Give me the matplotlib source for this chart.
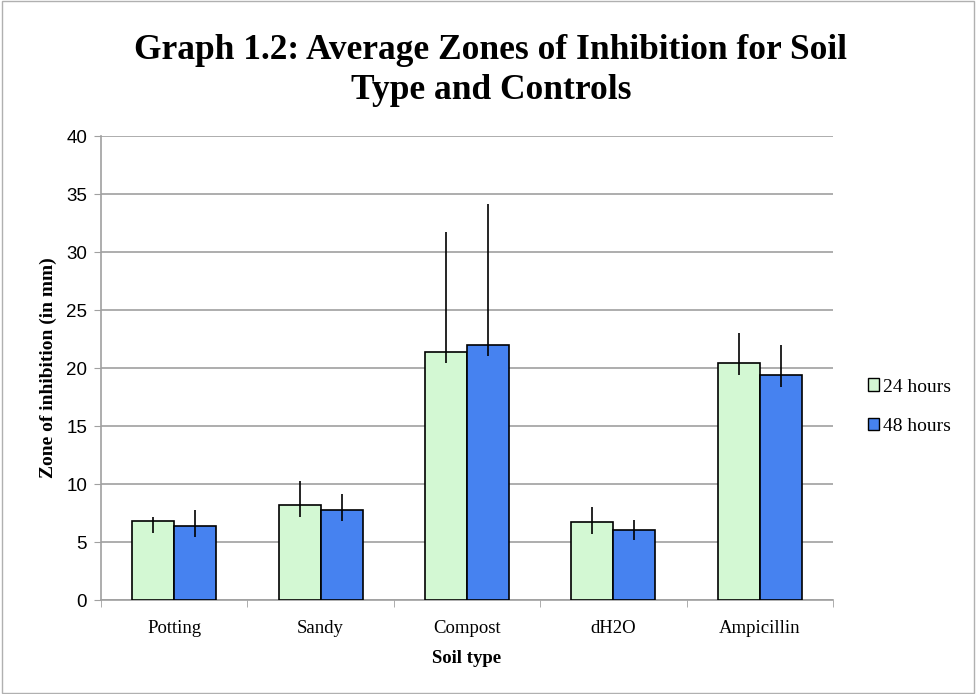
import matplotlib.pyplot as plt
import numpy as np
from matplotlib.patches import Patch, Rectangle

soils = ['Potting', 'Sandy', 'Compost', 'dH2O', 'Ampicillin']
h24 = [6.8, 8.2, 21.4, 6.7, 20.4]
h48 = [6.4, 7.75, 22.0, 6.0, 19.4]
# error bars (upper, lower)
h24_up = [0.4, 2.1, 10.3, 1.35, 2.6]
h24_lo = [1.0, 1.0, 1.0, 1.0, 1.0]
h48_up = [1.4, 1.35, 12.1, 0.9, 2.6]
h48_lo = [1.0, 0.9, 1.0, 0.85, 1.0]

green = '#d3f8d3'
blue = '#4682f0'
serif = 'Liberation Serif'

fig = plt.figure(figsize=(9.76, 6.94), dpi=100)
ax = fig.add_axes([0.1035, 0.1354, 0.75, 0.6686])

x = np.arange(len(soils))
w = 0.287
ax.bar(x - w/2, h24, w, color=green, edgecolor='black', linewidth=1.2, zorder=3)
ax.bar(x + w/2, h48, w, color=blue, edgecolor='black', linewidth=1.2, zorder=3)
ax.errorbar(x - w/2, h24, yerr=[h24_lo, h24_up], fmt='none', ecolor='black',
            elinewidth=1.2, capsize=0, zorder=4)
ax.errorbar(x + w/2, h48, yerr=[h48_lo, h48_up], fmt='none', ecolor='black',
            elinewidth=1.2, capsize=0, zorder=4)

ax.set_xlim(-0.5, 4.5)
ax.set_ylim(0, 40)
ax.set_yticks(range(0, 41, 5))
ax.yaxis.grid(True, color='#a0a0a0', linewidth=1.2, zorder=0)
ax.set_xticks(x)
ax.set_xticklabels(soils, family=serif, fontsize=13.5)
ax.set_xticks(np.arange(-0.5, 5, 1), minor=True)
ax.tick_params(axis='x', which='major', length=0, pad=14.5)
ax.tick_params(axis='x', which='minor', length=5, color='#a0a0a0', direction='out')
ax.tick_params(axis='y', length=5, color='#a0a0a0', labelsize=13.5, pad=5)
for lab in ax.get_yticklabels():
    lab.set_family('Liberation Sans')

for s in ['top', 'right']:
    ax.spines[s].set_visible(False)
for s in ['left', 'bottom']:
    ax.spines[s].set_color('#a0a0a0')
    ax.spines[s].set_linewidth(1.2)

ax.set_xlabel('Soil type', family=serif, fontweight='bold', fontsize=13.5, labelpad=9)
ax.set_ylabel('Zone of inhibition (in mm)', family=serif, fontweight='bold',
              fontsize=14, labelpad=6.5)

fig.text(0.503, 0.898, 'Graph 1.2: Average Zones of Inhibition for Soil\nType and Controls',
         ha='center', va='center', family=serif, fontweight='bold', fontsize=25.5,
         linespacing=1.29)

handles = [Patch(facecolor=green, edgecolor='black'),
           Patch(facecolor=blue, edgecolor='black')]
fig.legend(handles, ['24 hours', '48 hours'], loc='center left',
           bbox_to_anchor=(0.879, 0.414), frameon=False,
           prop={'family': serif, 'size': 14}, handlelength=0.6, handleheight=0.6,
           handletextpad=0.2, labelspacing=1.15, borderpad=0)

fig.patches.append(Rectangle((0.002, 0.002), 0.996, 0.996, transform=fig.transFigure,
                             fill=False, edgecolor='#b0b0b0', linewidth=1))

fig.savefig('out.png', dpi=100)
